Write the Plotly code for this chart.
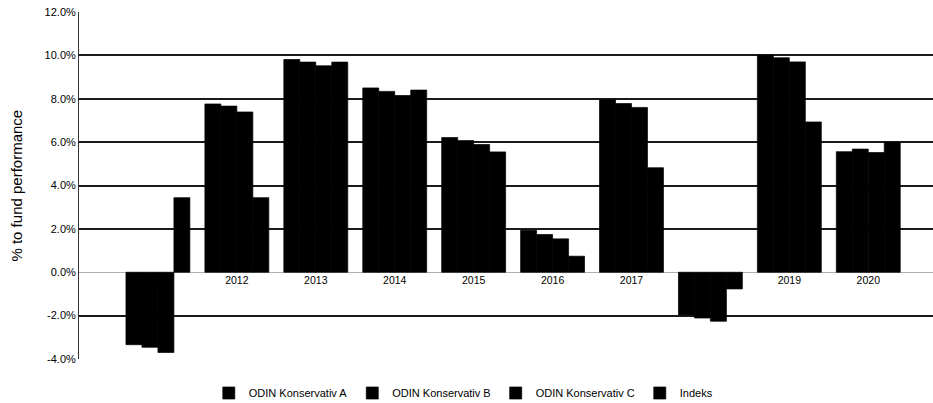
import plotly.graph_objects as go

years = ["2011", "2012", "2013", "2014", "2015", "2016", "2017", "2018", "2019", "2020"]
konservativ_a = [-3.34, 7.76, 9.81, 8.50, 6.21, 1.94, 7.95, -1.97, 10.01, 5.56]
konservativ_b = [-3.46, 7.66, 9.69, 8.34, 6.07, 1.74, 7.78, -2.11, 9.89, 5.68]
konservativ_c = [-3.70, 7.39, 9.52, 8.15, 5.89, 1.54, 7.60, -2.26, 9.70, 5.52]
indeks = [3.44, 3.44, 9.69, 8.40, 5.55, 0.74, 4.82, -0.77, 6.93, 5.99]
series_names = ["ODIN Konservativ A", "ODIN Konservativ B", "ODIN Konservativ C", "Indeks"]
y_ticks = [-4, -2, 0, 2, 4, 6, 8, 10, 12]
y_tick_labels = ["-4.0%", "-2.0%", "0.0%", "2.0%", "4.0%", "6.0%", "8.0%", "10.0%", "12.0%"]

font_family = "Liberation Sans, Arial, sans-serif"

fig = go.Figure()
for name, vals in zip(series_names, [konservativ_a, konservativ_b, konservativ_c, indeks]):
    fig.add_trace(go.Bar(
        x=years, y=vals, name=name,
        marker=dict(color="#000000", line=dict(color="#000000", width=0.7)),
    ))

fig.update_layout(
    width=933, height=403,
    margin=dict(l=79, r=0, t=12, b=44, autoexpand=False),
    paper_bgcolor="white", plot_bgcolor="white",
    barmode="group", bargap=0.19, bargroupgap=0,
    font=dict(family=font_family, color="black", size=11),
    showlegend=True,
    legend=dict(
        orientation="h", x=0.45, xanchor="center", y=-0.098, yanchor="middle",
        font=dict(size=11, family=font_family), bgcolor="rgba(0,0,0,0)",
    ),
    xaxis=dict(
        type="category", range=[-1, 9.82], showgrid=False, showline=False,
        ticks="", anchor="free", position=0.25, layer="below traces",
        tickfont=dict(size=10.5), zeroline=False, fixedrange=True, automargin=False,
    ),
    yaxis=dict(
        range=[-4, 12], tickvals=y_ticks, ticktext=y_tick_labels,
        showgrid=True, gridcolor="#1a1a1a", gridwidth=1.5,
        zeroline=True, zerolinecolor="#b0b0b0", zerolinewidth=1,
        showline=True, linecolor="#333333", linewidth=1,
        ticks="", tickfont=dict(size=11), fixedrange=True, automargin=False,
    ),
    annotations=[dict(
        text="% to fund performance", textangle=-90,
        xref="paper", yref="paper", x=-0.0737, y=0.5,
        xanchor="center", yanchor="middle", showarrow=False,
        font=dict(size=15, family=font_family, color="black"),
    )],
)

fig.write_html(
    "out.html",
    config={"displayModeBar": False},
    post_script="document.body.style.margin='0';document.body.style.padding='0';document.body.style.overflow='hidden';",
)
